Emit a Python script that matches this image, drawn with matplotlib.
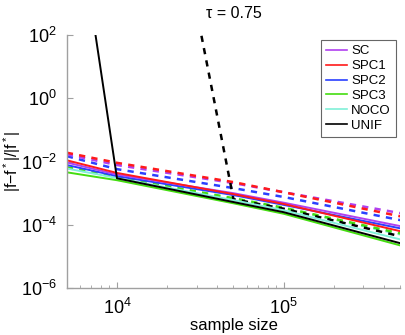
import matplotlib
matplotlib.use("Agg")
import matplotlib.pyplot as plt
import numpy as np
from matplotlib.ticker import NullLocator

plt.rcParams['font.family'] = ['Liberation Sans', 'DejaVu Sans']
plt.rcParams['mathtext.fontset'] = 'custom'
plt.rcParams['mathtext.rm'] = 'Liberation Sans'
plt.rcParams['mathtext.it'] = 'Liberation Sans'
plt.rcParams['mathtext.default'] = 'regular'

sample_sizes = [5e3, 1e4, 5e4, 1e5, 5e5]

# log10 of relative error, solid lines
sc_solid = [-2.03, -2.41, -3.00, -3.30, -4.04]
spc1_solid = [-1.96, -2.36, -3.03, -3.34, -4.20]
spc2_solid = [-2.11, -2.46, -3.06, -3.37, -4.11]
spc3_solid = [-2.34, -2.59, -3.32, -3.65, -4.65]
noco_solid = [-2.22, -2.52, -3.22, -3.54, -4.46]
unif_solid = [8.05, -2.53, -3.28, -3.60, -4.58]

# log10 of relative error, dashed lines
sc_dash = [-1.77, -2.11, -2.68, -2.97, -3.63]
spc1_dash = [-1.72, -2.04, -2.65, -2.97, -3.73]
spc2_dash = [-1.83, -2.24, -2.84, -3.12, -3.85]
spc3_dash = [-2.18, -2.49, -3.16, -3.46, -4.27]
noco_dash = [-2.20, -2.50, -3.18, -3.48, -4.30]
unif_dash = [17.0, 15.6, -3.19, -3.49, -4.36]

names = ['SC', 'SPC1', 'SPC2', 'SPC3', 'NOCO', 'UNIF']
colors = ['#b040f0', '#ff1a1a', '#2a40ff', '#44dd10', '#80f0d8', '#000000']
solids = [sc_solid, spc1_solid, spc2_solid, spc3_solid, noco_solid, unif_solid]
dashes = [sc_dash, spc1_dash, spc2_dash, spc3_dash, noco_dash, unif_dash]

fig = plt.figure(figsize=(4.05, 3.35), dpi=100)
ax = fig.add_axes([0.165, 0.140, 0.823, 0.7555])

order = [4, 3, 2, 0, 1, 5]
for i in order:
    ax.plot(sample_sizes, 10.0 ** np.array(dashes[i]), color=colors[i],
            lw=1.8, ls=(0, (2.5, 2.5)))
for i in order:
    ax.plot(sample_sizes, 10.0 ** np.array(solids[i]), color=colors[i], lw=1.4)

handles = [plt.Line2D([], [], color=c, lw=1.2) for c in colors]
leg = ax.legend(handles, names, loc='upper right',
                bbox_to_anchor=(0.978, 0.881), bbox_transform=fig.transFigure,
                fontsize=9.5, frameon=True, fancybox=False, handlelength=1.6,
                handletextpad=0.3, labelspacing=0.2, borderpad=0.4,
                borderaxespad=0)
leg.get_frame().set_edgecolor('#404040')
leg.get_frame().set_linewidth(0.8)

ax.set_xscale('log')
ax.set_yscale('log')
ax.set_xlim(5e3, 5e5)
ax.set_ylim(1e-6, 1e2)
ax.set_yticks([1e-6, 1e-4, 1e-2, 1e0, 1e2])
ax.yaxis.set_minor_locator(NullLocator())

for s in ['top', 'right']:
    ax.spines[s].set_visible(False)
for s in ['left', 'bottom']:
    ax.spines[s].set_color('#a0a0a0')
    ax.spines[s].set_linewidth(1.0)
ax.tick_params(which='both', direction='in', colors='#a0a0a0', labelcolor='black',
               labelsize=13, pad=7)
ax.tick_params(which='major', length=4)
ax.tick_params(which='minor', length=2)

ax.set_title('τ = 0.75', fontsize=11.5, pad=12)
ax.set_xlabel('sample size', fontsize=12, labelpad=0)
ax.set_ylabel(r'|f$-$f$^*$|/|f$^*$|', fontsize=11.5)
ax.yaxis.set_label_coords(-0.13, 0.5)

fig.savefig('out.png', dpi=100)
